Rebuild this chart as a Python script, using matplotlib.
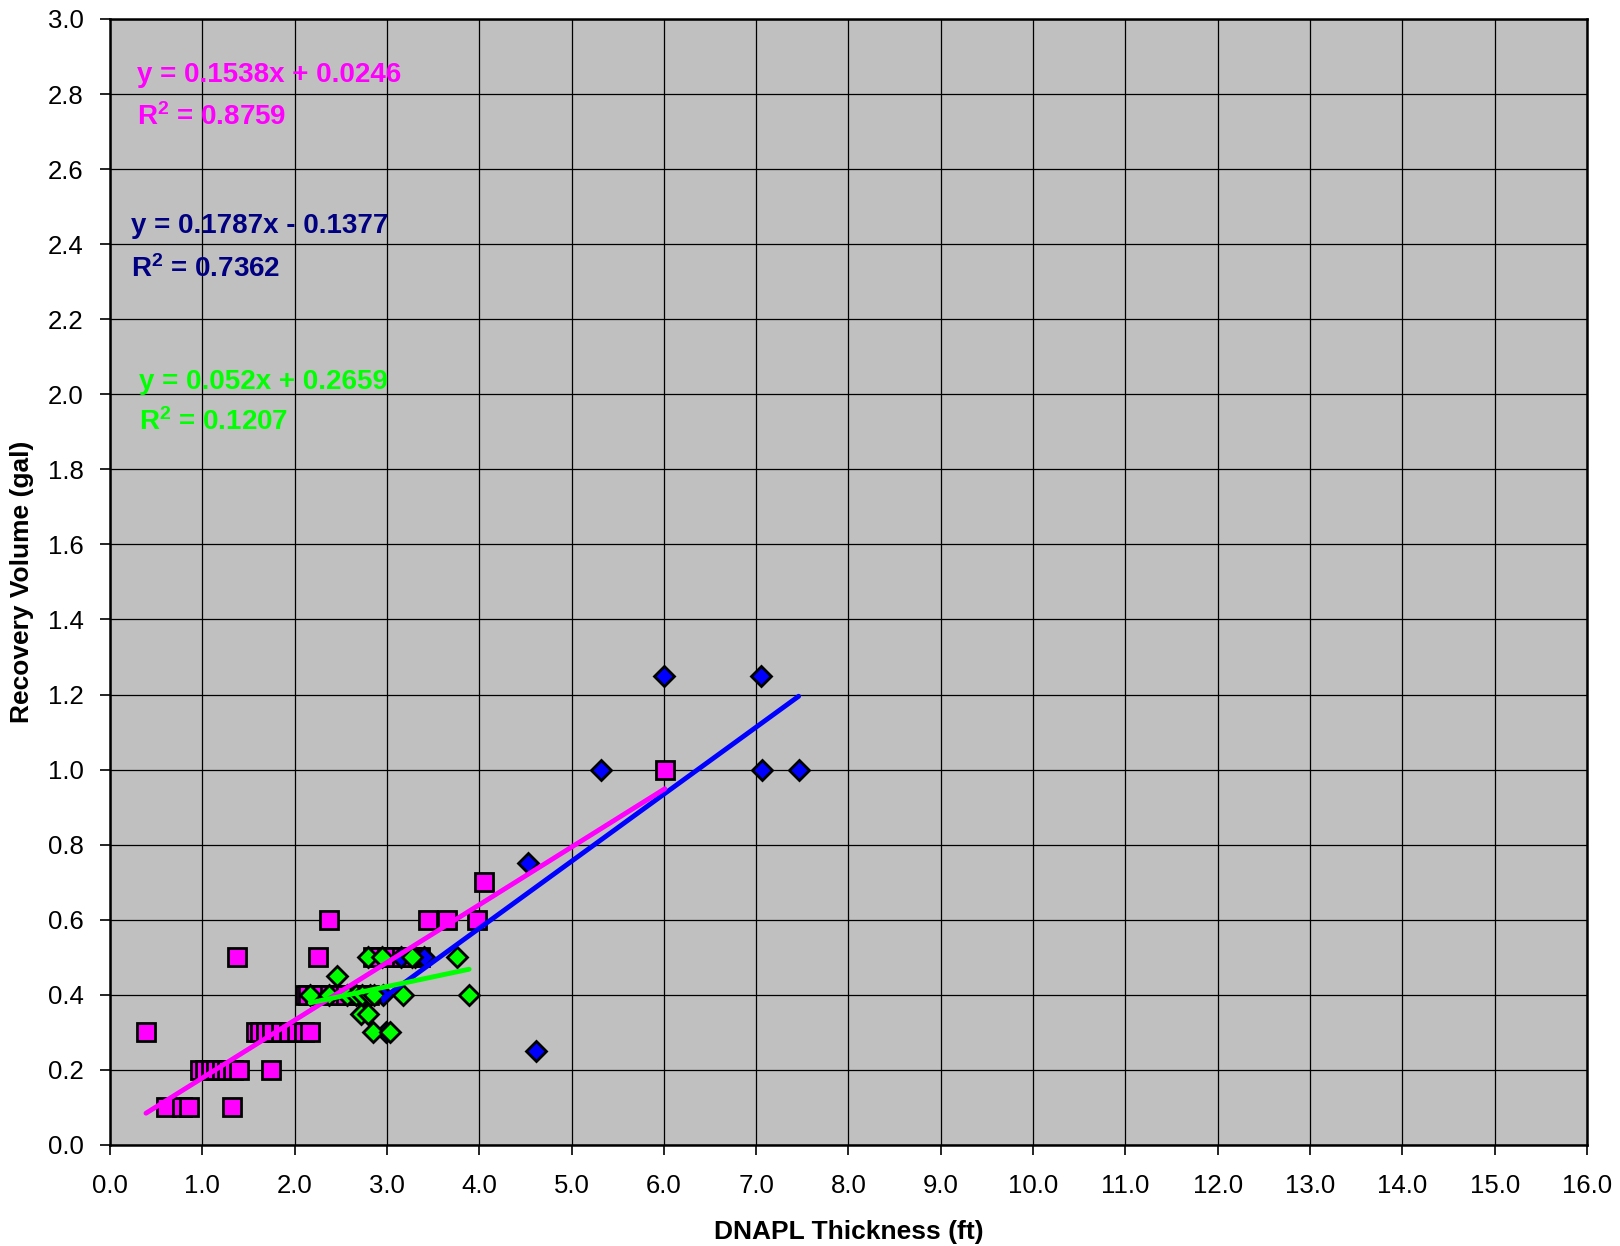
import numpy as np
import matplotlib.pyplot as plt

plt.rcParams['font.family'] = ['Liberation Sans', 'DejaVu Sans']
plt.rcParams['mathtext.default'] = 'regular'

# magenta squares
mag_x = [0.61, 0.78, 0.86, 1.32,
         0.98, 1.03, 1.09, 1.15, 1.21, 1.27, 1.33, 1.40, 1.74,
         0.39, 1.58, 1.63, 1.69, 1.76, 1.85, 1.94, 2.03, 2.10, 2.17,
         2.11, 2.15, 2.22, 2.30, 2.38, 2.47, 2.56, 2.65, 2.74, 2.81,
         1.38, 2.25, 2.85, 2.92, 3.00, 3.08, 3.16, 3.26, 3.36,
         2.37, 3.45, 3.65, 3.98,
         4.05, 6.01]
mag_y = [0.1, 0.1, 0.1, 0.1,
         0.2, 0.2, 0.2, 0.2, 0.2, 0.2, 0.2, 0.2, 0.2,
         0.3, 0.3, 0.3, 0.3, 0.3, 0.3, 0.3, 0.3, 0.3, 0.3,
         0.4, 0.4, 0.4, 0.4, 0.4, 0.4, 0.4, 0.4, 0.4, 0.4,
         0.5, 0.5, 0.5, 0.5, 0.5, 0.5, 0.5, 0.5, 0.5,
         0.6, 0.6, 0.6, 0.6,
         0.7, 1.0]

# blue diamonds
blue_x = [2.96, 2.99, 3.15, 3.30, 3.40, 4.53, 4.61, 5.32, 6.00, 7.05, 7.06, 7.46]
blue_y = [0.4, 0.3, 0.5, 0.5, 0.5, 0.75, 0.25, 1.0, 1.25, 1.25, 1.0, 1.0]

# green diamonds
green_x = [2.17, 2.37, 2.46, 2.57, 2.66, 2.72, 2.73, 2.79, 2.79, 2.82, 2.86,
           2.85, 2.95, 3.03, 3.17, 3.27, 3.76, 3.89]
green_y = [0.4, 0.4, 0.45, 0.4, 0.4, 0.35, 0.4, 0.35, 0.5, 0.4, 0.4,
           0.3, 0.5, 0.3, 0.4, 0.5, 0.5, 0.4]

# trendline coefficients (slope, intercept) as printed on the chart
mag_fit = [0.1538, 0.0246]
blue_fit = [0.1787, -0.1377]
green_fit = [0.052, 0.2659]

x_ticks = np.arange(0, 16.01, 1.0)
y_ticks = np.arange(0, 3.01, 0.2)

fig = plt.figure(figsize=(16.2, 12.46), dpi=100)
ax = fig.add_axes([0.0679, 0.0811, 0.9117, 0.9037])
ax.set_facecolor('#C0C0C0')

ax.plot(mag_x, mag_y, 's', ms=13, mfc='#FF00FF', mec='black', mew=2, zorder=3)
ax.plot(blue_x, blue_y, 'D', ms=10, mfc='#0000FF', mec='black', mew=2, zorder=4)
ax.plot(green_x, green_y, 'D', ms=10, mfc='#00FF00', mec='black', mew=2, zorder=5)

def trend(xs, fit, color):
    xx = np.array([min(xs), max(xs)])
    ax.plot(xx, fit[0] * xx + fit[1], color=color, lw=3.5, solid_capstyle='round', zorder=6)

trend(blue_x, blue_fit, '#0000FF')
trend(mag_x, mag_fit, '#FF00FF')
trend(green_x, green_fit, '#00FF00')

ax.set_xlim(0, 16)
ax.set_ylim(0, 3.0)
ax.set_xticks(x_ticks)
ax.set_yticks(y_ticks)
ax.set_xticklabels([f'{v:.1f}' for v in x_ticks])
ax.set_yticklabels([f'{v:.1f}' for v in y_ticks])
ax.tick_params(direction='out', length=7, width=1.2, labelsize=18.5, colors='black')
ax.tick_params(axis='x', pad=14)
ax.tick_params(axis='y', pad=12)
ax.grid(True, color='black', lw=0.9)
ax.set_axisbelow(True)
for s in ax.spines.values():
    s.set_linewidth(1.8)

ax.set_xlabel('DNAPL Thickness (ft)', fontsize=19, fontweight='bold', labelpad=16)
ax.set_ylabel('Recovery Volume (gal)', fontsize=19, fontweight='bold', labelpad=10)

ax.text(0.018, 0.950, 'y = 0.1538x + 0.0246', color='#FF00FF', fontsize=20,
        fontweight='bold', transform=ax.transAxes, va='center')
ax.text(0.018, 0.913, 'R$^{2}$ = 0.8759', color='#FF00FF', fontsize=20,
        fontweight='bold', transform=ax.transAxes, va='center')
ax.text(0.014, 0.816, 'y = 0.1787x - 0.1377', color='#000080', fontsize=20,
        fontweight='bold', transform=ax.transAxes, va='center')
ax.text(0.014, 0.778, 'R$^{2}$ = 0.7362', color='#000080', fontsize=20,
        fontweight='bold', transform=ax.transAxes, va='center')
ax.text(0.0196, 0.678, 'y = 0.052x + 0.2659', color='#00FF00', fontsize=20,
        fontweight='bold', transform=ax.transAxes, va='center')
ax.text(0.0196, 0.642, 'R$^{2}$ = 0.1207', color='#00FF00', fontsize=20,
        fontweight='bold', transform=ax.transAxes, va='center')

fig.savefig('out.png', dpi=100)
